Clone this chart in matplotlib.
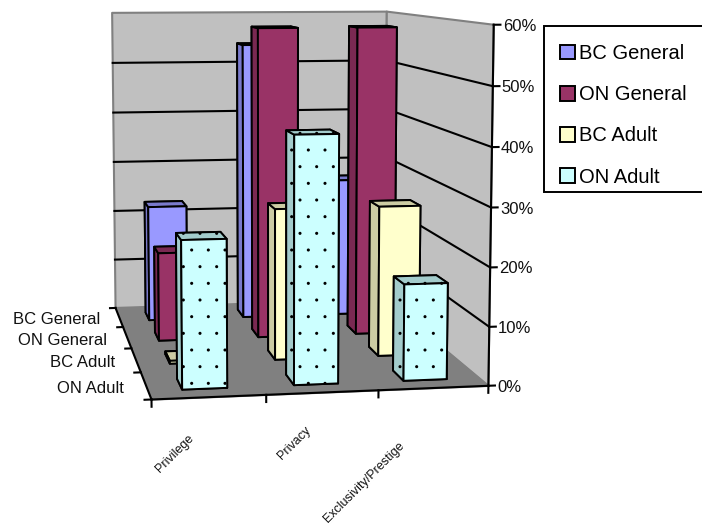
import numpy as np
import matplotlib
matplotlib.use('Agg')
import matplotlib.pyplot as plt
import matplotlib.hatch
from matplotlib.patches import Patch, Rectangle
from mpl_toolkits.mplot3d import proj3d
from mpl_toolkits.mplot3d.art3d import Poly3DCollection

# Datos de la grafica
categories = ['Privilege', 'Privacy', 'Exclusivity/Prestige']
series_names = ['BC General', 'ON General', 'BC Adult', 'ON Adult']
bc_general = [0.225, 0.54, 0.27]
on_general = [0.165, 0.58, 0.58]
bc_adult = [0.005, 0.27, 0.27]
on_adult = [0.25, 0.42, 0.165]
value_ticks = [0, 0.1, 0.2, 0.3, 0.4, 0.5, 0.6]
value_labels = ['0%', '10%', '20%', '30%', '40%', '50%', '60%']

series_values = [bc_general, on_general, bc_adult, on_adult]
series_colors = ['#9999FF', '#993366', '#FFFFCC', '#CCFFFF']
series_hatch = [None, None, None, '.']

plt.rcParams['font.family'] = ['Liberation Sans', 'DejaVu Sans']
matplotlib.hatch.SmallFilledCircles.size = 0.05  # puntos mas finos

fig = plt.figure(figsize=(7.02, 5.27), dpi=100)

# Camara ajustada a las esquinas de las paredes
s, cx, cy = 598.53, 275.11, 190.49
ax = fig.add_axes([(cx - s / 2) / 702, (527 - cy - s / 2) / 527, s / 702, s / 527],
                  projection='3d', computed_zorder=False)
ax.view_init(elev=7.077, azim=-99.623, roll=-0.013)
ax.set_proj_type('persp', focal_length=0.5495)
ax.set_box_aspect((1, 1.3782, 1.0662))
ax.set_xlim(0, 3)
ax.set_ylim(0, 4)
ax.set_zlim(0, 0.6)
ax.set_axis_off()


def label(x, y, z, text, **kwargs):
    # Texto en 2D colocado en la proyeccion de un punto 3D
    px, py, _ = proj3d.proj_transform(x, y, z, ax.get_proj())
    ax.text2D(px, py, text, transform=ax.transData, color='#111111', zorder=60, **kwargs)


top = value_ticks[-1]

# Paredes y piso
walls = [
    [[0, 4, 0], [3, 4, 0], [3, 4, top], [0, 4, top]],
    [[3, 4, 0], [3, 0, 0], [3, 0, top], [3, 4, top]],
]
ax.add_collection3d(Poly3DCollection(walls, facecolor='#C0C0C0', edgecolor='#808080',
                                     linewidth=1.5, zorder=1))
floor = [[[0, 0, 0], [3, 0, 0], [3, 4, 0], [0, 4, 0]]]
ax.add_collection3d(Poly3DCollection(floor, facecolor='#808080', edgecolor='#808080',
                                     linewidth=1, zorder=2))

# Lineas de cuadricula
for v in value_ticks[1:-1]:
    ax.plot([0, 3, 3], [4, 4, 0], [v, v, v], color='black', lw=1.5, zorder=3)

# Ejes y marcas
ax.plot([3, 3], [0, 0], [0, top], color='black', lw=1.5, zorder=4)
ax.plot([0, 3], [0, 0], [0, 0], color='black', lw=1.5, zorder=4)
ax.plot([0, 0], [0, 4], [0, 0], color='black', lw=1.5, zorder=4)
for v, text in zip(value_ticks, value_labels):
    ax.plot([3, 3.06], [0, 0], [v, v], color='black', lw=1.5, zorder=4)
    label(3.08, 0, v - 0.003, text, fontsize=12, ha='left', va='center')
for i in range(len(categories) + 1):
    ax.plot([i, i], [0, 0], [0, -0.012], color='black', lw=1.5, zorder=4)
for k in range(len(series_names) + 1):
    ax.plot([0, -0.06], [k, k], [0, 0], color='black', lw=1.5, zorder=4)

# Etiquetas de las series, de atras hacia adelante
for k, name in enumerate(series_names):
    label(-0.20, 3.5 - k, -0.004, name, fontsize=12, ha='right', va='center')

# Etiquetas de las categorias
label_dx = [-0.15, -0.125, -0.277]
label_dz = [-0.064, -0.060, -0.093]
for i, name in enumerate(categories):
    label(i + 0.5 + label_dx[i], 0, label_dz[i], name, fontsize=9, rotation=45,
          ha='right', va='center', rotation_mode='anchor')

# Barras: filas de atras hacia adelante, y en cada fila de derecha a izquierda
bar_w = 0.4
order = 10
for k, values in enumerate(series_values):
    row_y = 3 - k + 0.3
    base = np.array(matplotlib.colors.to_rgb(series_colors[k]))
    dark = base * 0.8
    faces = [dark, dark, base, base, dark, dark]
    for i in reversed(range(len(categories))):
        ax.bar3d(i + 0.3, row_y, 0, bar_w, bar_w, values[i], color=faces, shade=False,
                 edgecolor='black', linewidth=1.4, hatch=series_hatch[k], zorder=order)
        order += 1

# Leyenda
fig.add_artist(Rectangle((544 / 702, 1 - 192 / 527), 160 / 702, 166 / 527,
                         transform=fig.transFigure, facecolor='white', edgecolor='black',
                         linewidth=1.4, zorder=1))
handles = [Patch(facecolor=c, edgecolor='black', linewidth=1.4, hatch=h)
           for c, h in zip(series_colors, series_hatch)]
fig.legend(handles, series_names, loc='upper left', bbox_to_anchor=(544 / 702, 1 - 28 / 527),
           borderaxespad=0, fontsize=14.5, frameon=False,
           handlelength=0.75, handleheight=0.75, handletextpad=0.2, labelspacing=1.1,
           borderpad=0.8)

fig.savefig('out.png', dpi=100)
